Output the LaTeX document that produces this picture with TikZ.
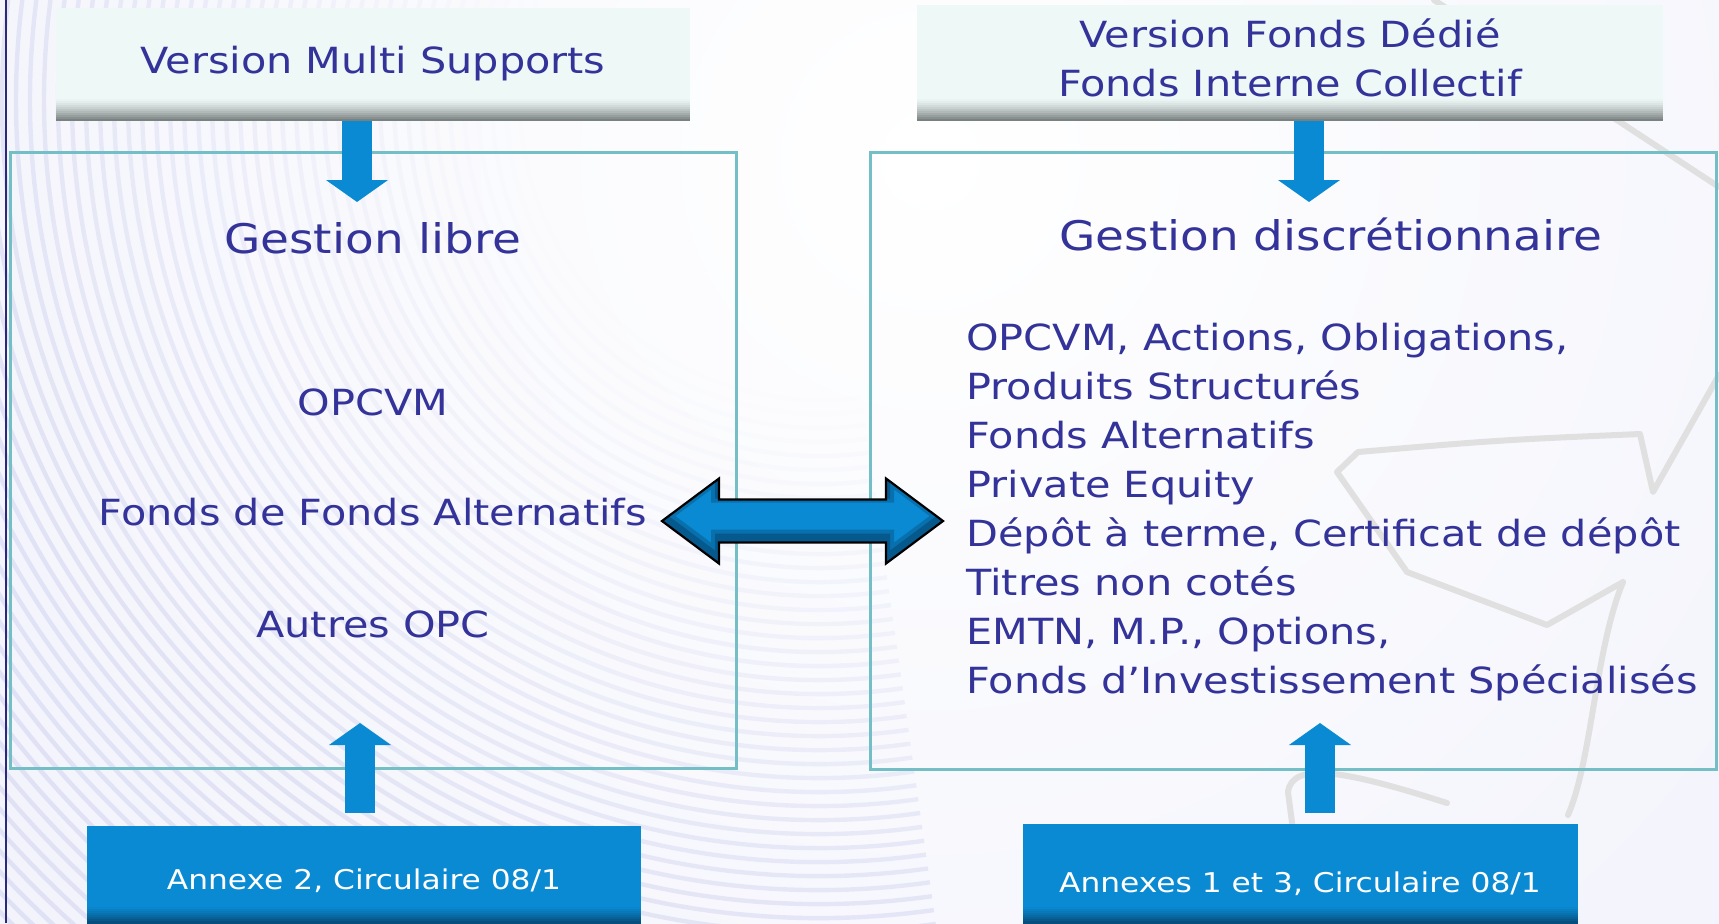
\documentclass[tikz,border=0pt]{standalone}
\usepackage{fontspec}
\setmainfont[FakeStretch=1.15]{DejaVu Sans}
\usetikzlibrary{arrows.meta,calc}
\definecolor{txtC}{HTML}{333399}
\definecolor{paleC}{HTML}{EEF8F7}
\definecolor{shadeC}{HTML}{7A8181}
\definecolor{frameC}{HTML}{74BFC6}
\definecolor{blueC}{HTML}{0A8AD2}
\definecolor{blueDk}{HTML}{064E7C}
\definecolor{lavC}{HTML}{E4E6F7}
\definecolor{lavLine}{HTML}{C6C9EC}
\definecolor{logoC}{HTML}{E0E0E0}
\definecolor{navyC}{HTML}{2B2A7A}
\definecolor{arrDk}{HTML}{03304F}
\tikzset{
  topbox/.style={rectangle, fill=paleC, inner sep=0pt, outer sep=0pt},
  framebox/.style={rectangle, draw=frameC, line width=1.5pt, inner sep=0pt, outer sep=0pt},
  botbox/.style={rectangle, fill=blueC, inner sep=0pt, outer sep=0pt},
  blockarrow/.style={draw=blueC, line width=15pt, line cap=butt,
    -{Triangle[width=30.5pt,length=11pt]}},
  tnode/.style={text=txtC, font=\fontsize{18}{24.5}\selectfont, anchor=base, inner sep=0pt},
  tbig/.style={text=txtC, font=\fontsize{20.4}{24}\selectfont, anchor=base, inner sep=0pt},
  tlist/.style={text=txtC, font=\fontsize{18}{24.5}\selectfont, anchor=base west, inner sep=0pt},
  twhite/.style={text=white, font=\fontsize{13.6}{16}\selectfont, anchor=base, inner sep=0pt},
  logo/.style={draw=logoC, line width=3pt, line cap=round, line join=round},
  dblP/.style={insert path={(daL) -- ($(daL)+(57,-42.5)$) -- ($(daL)+(57,-21.5)$) -- ($(daR)+(-57,-21.5)$)
    -- ($(daR)+(-57,-42.5)$) -- (daR) -- ($(daR)+(-57,42.5)$) -- ($(daR)+(-57,21.5)$)
    -- ($(daL)+(57,21.5)$) -- ($(daL)+(57,42.5)$) -- cycle}}
}
\begin{document}
\begin{tikzpicture}[x=0.5pt,y=-0.5pt]
\useasboundingbox (0,0) rectangle (1719,923);
\clip (0,0) rectangle (1719,923);
% background
\fill[white] (0,0) rectangle (1719,923);
\shade[inner color=white, outer color=lavC] (930,160) circle (2500);
\foreach \r in {300,314,...,1500}{
  \pgfmathsetmacro\op{min(0.42,max(0,(\r-290)/1400))}
  \draw[lavLine, line width=2.2pt, opacity=\op] (820,100) ++(82:\r) arc[start angle=82, end angle=225, radius=\r];
}
% faint logo strokes
\draw[logo] (1434,0) -- (1719,187);
\draw[logo] (1719,375) -- (1653,492) -- (1640,434) .. controls (1500,440) .. (1358,452) -- (1337,472)
  -- (1407,572) -- (1547,625) -- (1623,582)
  .. controls (1595,650) and (1592,760) .. (1568,815);
\draw[logo] (1447,803) .. controls (1350,772) and (1292,760) .. (1288,792) -- (1293,830);
% left border line
\draw[navyC, line width=1.2pt] (6,0) -- (6,923);
% frames
\node[framebox, minimum width=363pt, minimum height=308pt] (frL) at (373,460) {};
\node[framebox, minimum width=423pt, minimum height=308.5pt] (frR) at (1293,460.5) {};
% top boxes
\node[topbox, minimum width=317pt, minimum height=56.5pt] (topL) at (373,64.5) {};
\node[topbox, minimum width=373pt, minimum height=58pt] (topR) at (1290,63) {};
\foreach \b in {topL,topR}{
  \foreach \k in {0,...,10}{
    \pgfmathsetmacro\pc{100*(1-\k/11)^1.4}
    \fill[shadeC!\pc!paleC] ($(\b.south west)+(0,-2*\k)$) rectangle ($(\b.south east)+(0,-2*\k-2.4)$);
  }
}
% bottom boxes
\node[botbox, minimum width=277pt, minimum height=49.5pt] (botL) at (364,875.5) {};
\node[botbox, minimum width=277.5pt, minimum height=50.5pt] (botR) at (1300.5,874.5) {};
\foreach \b in {botL,botR}{
  \foreach \k in {0,...,7}{
    \pgfmathsetmacro\pc{100*(1-\k/8)^1.3}
    \fill[blueDk!\pc!blueC] ($(\b.south west)+(0,-2-2*\k)$) rectangle ($(\b.south east)+(0,-2-2*\k-2.4)$);
  }
  \fill[blueDk] ($(\b.south west)+(0,-2.4)$) rectangle (\b.south east);
}
% arrows
\coordinate (dLtip) at (357,202);
\coordinate (dRtip) at (1309,202);
\coordinate (uLtip) at (360,723);
\coordinate (uRtip) at (1320,723);
\draw[blockarrow] (topL.south -| dLtip) -- (dLtip);
\draw[blockarrow] (topR.south -| dRtip) -- (dRtip);
\draw[blockarrow] ($(botL.north -| uLtip)+(0,-13)$) -- (uLtip);
\draw[blockarrow] ($(botR.north -| uRtip)+(0,-11)$) -- (uRtip);
% double arrow between the two frames
\coordinate (daL) at (662,521);
\coordinate (daR) at (943,521);
\fill[blueC, dblP];
\begin{scope}
  \path[clip, dblP];
  \begin{scope}[transform canvas={shift={(0pt,2.5pt)}}]
    \draw[arrDk, line width=8pt, opacity=0.28, line join=miter, dblP];
    \draw[arrDk, line width=4pt, opacity=0.35, line join=miter, dblP];
  \end{scope}
\end{scope}
\draw[black, line width=1.1pt, line join=miter, dblP];
% texts
\node[tnode] (tL) at (373,73) {Version Multi Supports};
\node[tnode] (tR1) at (1290,47) {Version Fonds Dédié};
\node[tnode] (tR2) at (1290,96) {Fonds Interne Collectif};
\node[tbig] (gl) at (373,253) {Gestion libre};
\node[tbig] (gd) at (1331,250) {Gestion discrétionnaire};
\node[tnode] (o1) at (373,415) {OPCVM};
\node[tnode] (o2) at (373,525) {Fonds de Fonds Alternatifs};
\node[tnode] (o3) at (373,637) {Autres OPC};
\node[tlist] (l1) at (966,350) {OPCVM, Actions, Obligations,};
\node[tlist] (l2) at (966,399) {Produits Structurés};
\node[tlist] (l3) at (966,448) {Fonds Alternatifs};
\node[tlist] (l4) at (966,497) {Private Equity};
\node[tlist] (l5) at (966,546) {Dépôt à terme, Certificat de dépôt};
\node[tlist] (l6) at (966,595) {Titres non cotés};
\node[tlist] (l7) at (966,644) {EMTN, M.P., Options,};
\node[tlist] (l8) at (966,693) {Fonds d’Investissement Spécialisés};
\node[twhite] (bL) at (364,889) {Annexe 2, Circulaire 08/1};
\node[twhite] (bR) at (1300,892) {Annexes 1 et 3, Circulaire 08/1};
\end{tikzpicture}
\end{document}
